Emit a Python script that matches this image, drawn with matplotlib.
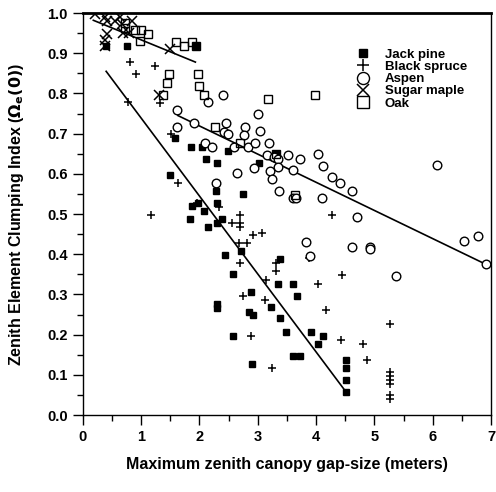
import matplotlib
matplotlib.use("Agg")
import matplotlib.pyplot as plt
from matplotlib.ticker import MultipleLocator

plt.rcParams['font.family'] = ['Liberation Sans', 'DejaVu Sans']
plt.rcParams['font.weight'] = 'bold'

# Jack pine (filled squares)
jp_x = [0.39, 0.76, 1.94, 1.58, 1.86, 2.05, 2.12, 2.30, 2.49, 3.02, 3.32, 2.28, 2.74,
        2.30, 1.50, 1.98, 2.08, 1.83, 1.87, 2.15, 2.30, 2.38, 2.44, 2.72, 2.58, 3.38,
        3.34, 3.60, 3.68, 2.88, 3.22, 2.85, 2.92, 2.30, 2.30, 3.38, 3.49, 3.92, 4.12,
        4.03, 2.58, 2.90, 3.61, 3.73, 4.51, 4.51, 4.51, 4.51]
jp_y = [0.918, 0.918, 0.919, 0.690, 0.667, 0.667, 0.638, 0.628, 0.657, 0.628, 0.649, 0.557, 0.549,
        0.528, 0.598, 0.528, 0.507, 0.487, 0.519, 0.467, 0.477, 0.487, 0.397, 0.408, 0.351, 0.387,
        0.326, 0.326, 0.297, 0.307, 0.268, 0.257, 0.250, 0.276, 0.266, 0.241, 0.207, 0.207, 0.197,
        0.177, 0.197, 0.128, 0.148, 0.148, 0.138, 0.118, 0.088, 0.058]

# Black spruce (+)
bs_x = [0.81, 1.24, 0.91, 0.78, 1.33, 1.52, 1.64, 1.17, 1.95, 2.33, 2.69, 2.56, 2.69, 2.69,
        2.68, 2.81, 2.69, 2.75, 2.91, 3.07, 3.32, 3.31, 3.14, 3.88, 4.04, 3.12, 4.17, 2.89,
        3.25, 4.42, 4.44, 4.80, 4.88, 5.26, 5.26, 5.26, 5.26, 5.26, 5.26, 5.26, 4.28]
bs_y = [0.877, 0.868, 0.848, 0.779, 0.777, 0.700, 0.577, 0.498, 0.528, 0.518, 0.498, 0.477, 0.477, 0.467,
        0.427, 0.427, 0.377, 0.297, 0.447, 0.452, 0.377, 0.358, 0.337, 0.390, 0.327, 0.287, 0.260, 0.197,
        0.118, 0.187, 0.348, 0.177, 0.138, 0.227, 0.108, 0.098, 0.088, 0.078, 0.050, 0.039, 0.498]

# Aspen (open circles)
as_x = [1.61, 1.62, 1.90, 2.14, 2.41, 3.00, 2.10, 2.22, 2.46, 2.42, 2.49, 2.59, 2.78, 2.77,
        3.04, 2.84, 2.95, 3.20, 2.64, 2.93, 2.29, 3.16, 3.27, 3.34, 3.52, 3.73, 3.21, 3.34,
        3.25, 3.60, 3.36, 3.61, 3.65, 4.03, 4.12, 4.28, 4.41, 4.62, 4.10, 4.70, 3.82, 3.89,
        4.62, 4.92, 4.93, 5.37, 6.07, 6.54, 6.78, 6.91]
as_y = [0.760, 0.717, 0.727, 0.778, 0.797, 0.750, 0.677, 0.667, 0.727, 0.705, 0.698, 0.667, 0.716, 0.697,
        0.707, 0.667, 0.677, 0.677, 0.601, 0.614, 0.577, 0.647, 0.643, 0.636, 0.646, 0.637, 0.606, 0.617,
        0.586, 0.610, 0.557, 0.539, 0.539, 0.649, 0.620, 0.591, 0.578, 0.557, 0.539, 0.493, 0.430, 0.395,
        0.419, 0.417, 0.414, 0.347, 0.623, 0.432, 0.446, 0.375]

# Sugar maple (x)
sm_x = [0.21, 0.38, 0.42, 0.55, 0.63, 0.68, 0.84, 0.42, 0.69, 0.79, 0.38, 0.38, 1.49, 1.30]
sm_y = [0.998, 0.990, 0.980, 0.980, 0.990, 0.972, 0.980, 0.948, 0.950, 0.950, 0.933, 0.918, 0.910, 0.797]

# Oak (open squares)
oak_x = [0.72, 0.72, 0.89, 0.99, 1.12, 0.98, 1.60, 1.74, 1.88, 1.94, 1.48, 1.45, 1.98, 2.00,
         2.08, 1.38, 2.27, 3.18, 3.98, 2.70, 3.32, 3.64]
oak_y = [0.976, 0.964, 0.958, 0.958, 0.949, 0.930, 0.929, 0.919, 0.929, 0.919, 0.848, 0.827, 0.848, 0.818,
         0.797, 0.797, 0.717, 0.787, 0.797, 0.677, 0.649, 0.547]

# regression lines (end points)
line_jp = ([0.40, 4.51], [0.855, 0.058])
line_as = ([1.63, 6.91], [0.745, 0.375])
line_hw = ([0.18, 1.93], [0.982, 0.878])

fig = plt.figure(figsize=(4.96, 4.92), dpi=100)
ax = fig.add_axes([0.167, 0.1565, 0.823, 0.817])

for lx, ly in (line_jp, line_as, line_hw):
    ax.plot(lx, ly, color='black', lw=1.2)

ax.plot(jp_x, jp_y, 's', color='black', ms=4.2, ls='none', label='Jack pine')
ax.plot(bs_x, bs_y, '+', color='black', ms=6, mew=1.1, ls='none', label='Black spruce')
ax.plot(as_x, as_y, 'o', mfc='white', mec='black', ms=6.2, mew=1.0, ls='none', label='Aspen')
ax.plot(sm_x, sm_y, 'x', color='black', ms=6.5, mew=1.1, ls='none', label='Sugar maple')
ax.plot(oak_x, oak_y, 's', mfc='none', mec='black', ms=5.8, mew=1.0, ls='none', label='Oak')

ax.set_xlim(0, 7)
ax.set_ylim(0, 1.0)
ax.xaxis.set_major_locator(MultipleLocator(1))
ax.xaxis.set_minor_locator(MultipleLocator(0.5))
ax.yaxis.set_major_locator(MultipleLocator(0.1))
ax.yaxis.set_minor_locator(MultipleLocator(0.05))
ax.yaxis.set_major_formatter(matplotlib.ticker.FormatStrFormatter('%.1f'))
ax.tick_params(which='major', length=7, width=1.0, labelsize=10.5, pad=4)
ax.tick_params(which='minor', length=4, width=1.0)
for lab in ax.get_xticklabels() + ax.get_yticklabels():
    lab.set_fontweight('bold')
for s in ax.spines.values():
    s.set_linewidth(1.0)
ax.spines['top'].set_linewidth(2.0)

ax.set_xlabel('Maximum zenith canopy gap-size (meters)', fontsize=11.5, fontweight='bold', labelpad=9)
ax.set_ylabel(r'Zenith Element Clumping Index ($\mathbf{\Omega_e(0)}$)', fontsize=11.5,
              fontweight='bold', labelpad=15)

leg = ax.legend(loc='upper left', bbox_to_anchor=(0.655, 0.925), frameon=False,
                fontsize=9.5, labelspacing=0.0, handletextpad=1.0, handlelength=1.2,
                markerscale=1.4, borderaxespad=0)
for t in leg.get_texts():
    t.set_fontweight('bold')

fig.savefig('out.png', dpi=100)
